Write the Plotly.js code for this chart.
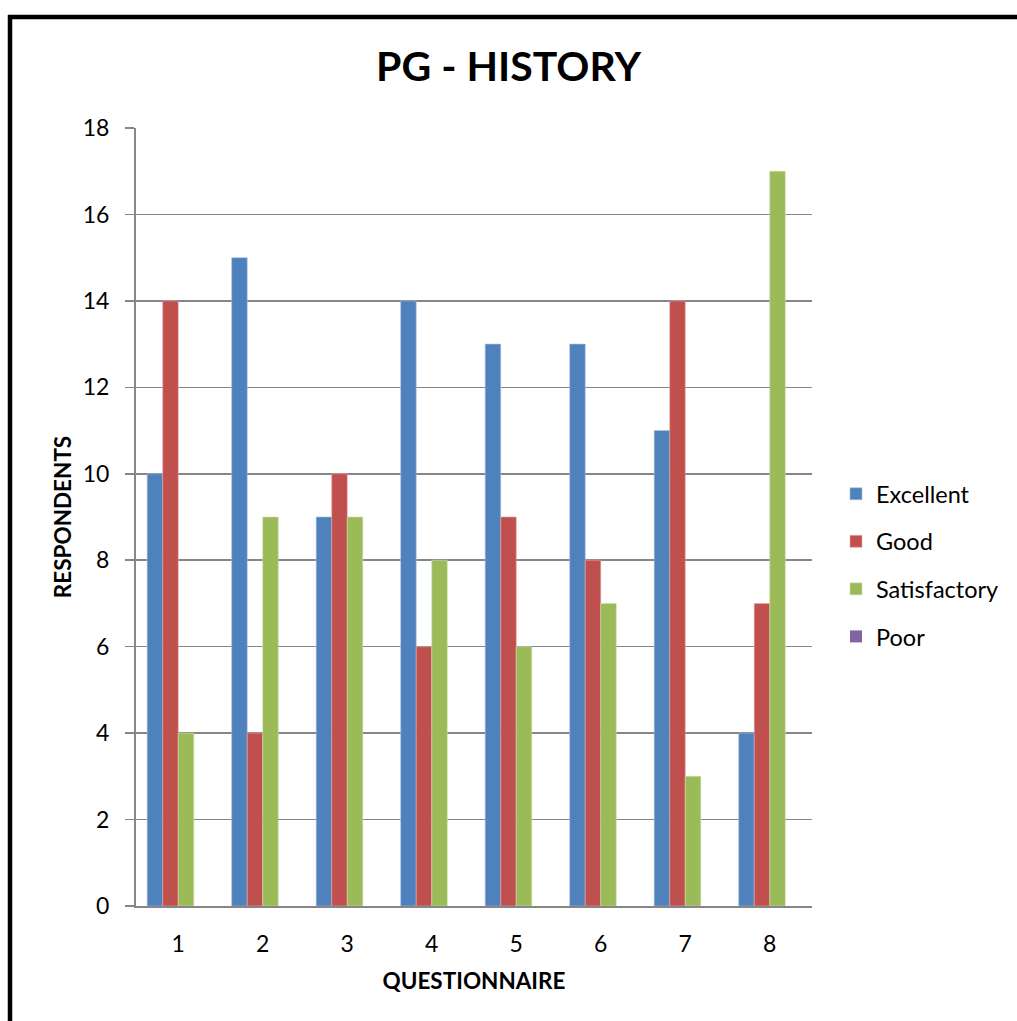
<!DOCTYPE html>
<html><head><meta charset="utf-8">
<script src="https://cdn.plot.ly/plotly-3.0.1.min.js"></script>
<style>html,body{margin:0;padding:0;background:#fff;}#chart{width:1017px;height:1021px;}</style>
</head><body><div id="chart"></div>
<script>
const categories = ['1','2','3','4','5','6','7','8'];
const excellent = [10,15,9,14,13,13,11,4];
const good = [14,4,10,6,9,8,14,7];
const satisfactory = [4,9,9,8,6,7,3,17];
const poor = [0,0,0,0,0,0,0,0];
const seriesNames = ['Excellent','Good','Satisfactory','Poor'];
const colors = ['#4F81BD','#C0504D','#9BBB59','#8064A2'];
const edge = ['#A7C0DE','#E0A9A7','#CDDDAC','#BFB1D0'];
const yTicks = [0,2,4,6,8,10,12,14,16,18];

const L=136, R=812, T=128, B=906;
const px = X => (X-L)/(R-L);
const py = Y => (B-Y)/(B-T);

const data = [excellent,good,satisfactory,poor].map((v,i)=>({
  type:'bar', x:categories, y:v, name:seriesNames[i], legendgroup:'g'+i,
  marker:{color:colors[i], line:{color:edge[i], width:i===3?0:0.6}}
}));

const font = 'Lato, "Open Sans", sans-serif';
const layout = {
  width:1017, height:1021,
  margin:{l:L, r:1017-R, t:T, b:1021-B, pad:0, autoexpand:false},
  paper_bgcolor:'#fff', plot_bgcolor:'#fff',
  barmode:'group', bargap:0.265, bargroupgap:0,
  font:{family:font, color:'#000', size:23},
  title:{text:'<b>PG - HISTORY</b>', font:{family:font, size:41, color:'#000'}, x:0.5, xanchor:'center', y:1-67/1021, yanchor:'middle'},
  xaxis:{
    type:'category', showline:true, linecolor:'#868686', linewidth:2,
    ticks:'', ticklabelstandoff:16, tickfont:{size:23},
    title:{text:'<b>QUESTIONNAIRE</b>', font:{size:22.5}, standoff:18},
    showgrid:false, zeroline:false
  },
  yaxis:{
    range:[0,18], tickvals:yTicks, ticktext:yTicks.map(String),
    showline:true, linecolor:'#868686', linewidth:2,
    ticks:'outside', ticklen:9, tickcolor:'#868686', tickwidth:1.5, ticklabelstandoff:11,
    showgrid:true, gridcolor:'#868686', gridwidth:1.5, zeroline:false,
    tickfont:{size:23},
    title:{text:'<b>RESPONDENTS</b>', font:{size:22.5}, standoff:5}
  },
  legend:{x:px(836), y:py(472), xanchor:'left', yanchor:'top', font:{size:23.5}, traceorder:'grouped', tracegroupgap:14, itemwidth:20, bgcolor:'rgba(0,0,0,0)'},
  shapes:[
    {type:'line', xref:'paper', yref:'paper', x0:px(10), x1:px(10), y0:py(15), y1:py(1030), line:{color:'#000', width:4.5}},
    {type:'line', xref:'paper', yref:'paper', x0:px(8), x1:px(1030), y0:py(17), y1:py(17), line:{color:'#000', width:4.5}}
  ]
};
Plotly.newPlot('chart', data, layout, {displayModeBar:false, staticPlot:true});
</script></body></html>
